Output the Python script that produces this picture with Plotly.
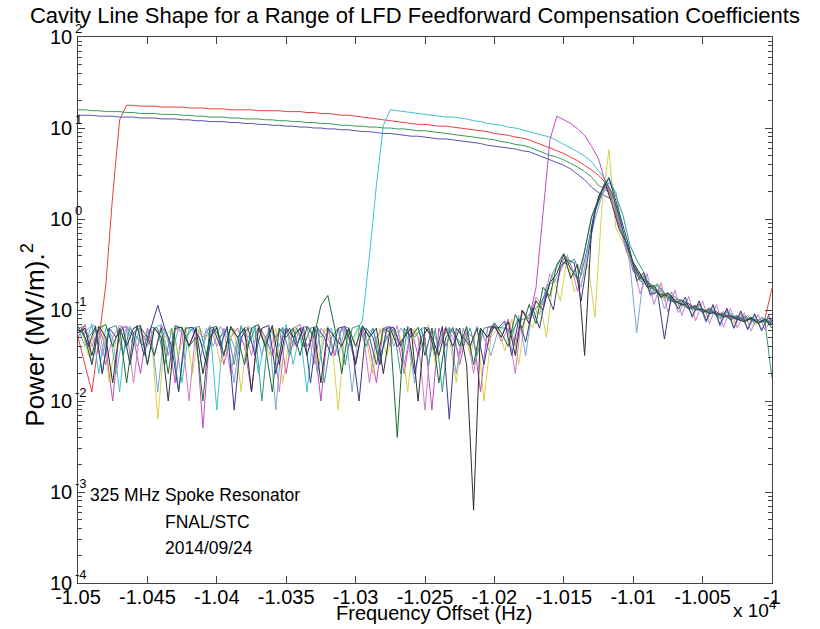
import plotly.graph_objects as go

# Frequency sweep grids (Hz), 5 Hz step; second grid interleaved by half a step
freq = list(range(-10500, -9999, 5))
freq_b = [f + 2.5 for f in freq]

# Power levels, in dB of (MV/m)^2  (P = 10**(dB/10))
red_db = [-13, -16, -19, -13.3, -7.3, 2.6, 10.9, 12.5, 12.5, 12.4,
          12.4, 12.4, 12.3, 12.3, 12.3, 12.3, 12.2, 12.2, 12.2, 12.1,
          12.1, 12.1, 12.0, 12.0, 12.0, 12.0, 11.9, 11.9, 11.9, 11.9,
          11.8, 11.8, 11.8, 11.7, 11.7, 11.6, 11.6, 11.5, 11.4, 11.4,
          11.3, 11.2, 11.1, 11.0, 10.9, 10.8, 10.7, 10.6, 10.5, 10.4,
          10.4, 10.3, 10.2, 10.2, 10.1, 10.0, 9.9, 9.8, 9.7, 9.6,
          9.4, 9.3, 9.2, 9.0, 8.9, 8.7, 8.4, 8.1, 7.8, 7.5,
          7.2, 6.8, 6.4, 5.9, 5.4, 4.8, 4.0, 2.4, -0.2, -3.2,
          -5.3, -6.1, -7.3, -7.5, -8.4, -8.2, -9.1, -9.0, -9.7, -9.5,
          -10.2, -9.8, -10.4, -10.5, -10.6, -11.0, -10.7, -11.1, -11.3, -10.9,
          -7.6]
cyan_db = [-12, -14, -11.5, -17, -12, -13, -19, -11.8, -14, -12,
           -16, -12, -11.6, -15, -13, -18, -12, -12.5, -14, -11.7,
           -21, -12, -13, -15, -11.9, -12, -17, -13, -12, -14,
           -11.6, -16, -12.5, -19, -12, -13, -11.8, -15, -12, -14,
           -12.5, -11.1, -4.0, 3.7, 10.3, 12.0, 11.9, 11.8, 11.7, 11.6,
           11.5, 11.4, 11.3, 11.2, 11.2, 11.1, 11.0, 10.8, 10.7, 10.5,
           10.4, 10.3, 10.1, 10.0, 9.8, 9.6, 9.4, 9.2, 9.0, 8.6,
           8.2, 7.8, 7.4, 6.9, 6.3, 5.3, 4.3, 2.7, 0.0, -2.9,
           -5.6, -6.6, -6.9, -7.9, -7.8, -8.7, -8.9, -9.4, -9.3, -9.9,
           -10.1, -10.1, -10.6, -10.4, -10.8, -10.7, -11.1, -10.8, -11.2, -11.0,
           -11.3]
magenta_db = [-13, -11.6, -16, -12, -14, -20, -12, -11.8, -13, -17,
              -12, -15, -11.7, -13, -18, -12, -14, -12, -23, -12.5,
              -11.9, -16, -13, -12, -14, -19, -11.8, -13, -15, -12,
              -17, -12, -11.6, -14, -13, -20, -12, -15, -11.9, -13,
              -16, -12, -14, -18, -12, -11.8, -13, -17, -12, -15,
              -13, -21, -12, -14, -11.9, -16, -12.5, -13, -19, -12,
              -11.6, -13, -11, -14, -10, -11, -7.5, 0.7, 8.7, 11.3,
              10.9, 10.5, 9.9, 9.2, 8.0, 6.6, 4.0, 2.0, -0.8, -2.6,
              -5.8, -6.0, -7.1, -8.3, -7.6, -8.8, -8.5, -9.3, -9.7, -9.5,
              -10.3, -9.8, -10.6, -10.2, -10.9, -10.6, -11.0, -11.1, -11.3, -11.0,
              -11.4]
green_db = [12.0, 12.0, 11.9, 11.9, 11.8, 11.8, 11.8, 11.7, 11.7, 11.6,
            11.6, 11.6, 11.5, 11.5, 11.5, 11.4, 11.4, 11.3, 11.3, 11.2,
            11.2, 11.2, 11.1, 11.1, 11.0, 11.0, 11.0, 10.9, 10.9, 10.8,
            10.8, 10.7, 10.7, 10.6, 10.6, 10.5, 10.5, 10.4, 10.3, 10.3,
            10.2, 10.2, 10.1, 10.1, 10.0, 10.0, 9.9, 9.9, 9.8, 9.7,
            9.7, 9.6, 9.5, 9.4, 9.3, 9.2, 9.1, 9.0, 8.9, 8.8,
            8.7, 8.5, 8.4, 8.2, 8.1, 7.9, 7.6, 7.3, 7.0, 6.8,
            6.5, 6.1, 5.7, 5.2, 4.6, 3.7, 3.2, 2.6, 0.2, -3.4,
            -4.7, -6.4, -6.9, -7.4, -8.7, -8.3, -8.9, -9.5, -9.7, -9.7,
            -10.0, -10.3, -10.4, -10.6, -10.9, -10.8, -11.2, -11.0, -11.1, -11.4,
            -17.5]
blue_db = [11.4, 11.4, 11.4, 11.3, 11.3, 11.3, 11.2, 11.2, 11.2, 11.1,
           11.1, 11.1, 11.0, 11.0, 11.0, 10.9, 10.9, 10.8, 10.8, 10.7,
           10.7, 10.7, 10.6, 10.6, 10.5, 10.5, 10.4, 10.4, 10.3, 10.3,
           10.2, 10.2, 10.1, 10.1, 10.0, 10.0, 9.9, 9.9, 9.8, 9.8,
           9.7, 9.6, 9.6, 9.5, 9.4, 9.4, 9.3, 9.2, 9.1, 9.1,
           9.0, 8.9, 8.8, 8.8, 8.7, 8.6, 8.5, 8.4, 8.3, 8.1,
           8.0, 7.9, 7.8, 7.7, 7.5, 7.4, 7.1, 6.8, 6.5, 6.2,
           5.9, 5.5, 4.9, 4.3, 3.5, 2.9, 2.5, 2.2, -0.6, -3.1,
           -5.2, -6.8, -7.1, -7.7, -8.0, -8.9, -9.1, -9.3, -9.9, -9.6,
           -10.2, -10.1, -10.5, -10.6, -10.7, -11.1, -10.9, -11.0, -11.5, -11.2,
           -11.4]
yellow_db = [-12, -15, -12, -11.7, -18, -13, -12, -16, -11.9, -14,
             -12, -22, -13, -12, -15, -11.8, -17, -12, -13, -12,
             -16, -14, -12, -19, -11.7, -13, -12, -15, -12, -18,
             -13, -11.8, -14, -12, -16, -12, -13, -21, -12, -14,
             -11.9, -13, -17, -12, -15, -12, -13, -19, -12, -14,
             -11.6, -16, -12, -13, -18, -12, -15, -11.8, -20, -13,
             -12, -14.5, -11, -16, -10.5, -12, -9, -13, -6.5, -9,
             -4.2, -8, -7, -5, -10.8, 1.5, 7.6, -1.0, -2.5, -4.0,
             -6.5, -6.0, -8.0, -7.0, -9.0, -8.0, -9.5, -9.0, -10.5, -9.5,
             -10.8, -10.0, -11.0, -10.2, -11.5, -10.6, -11.2, -11.8, -10.9, -11.6,
             -11.0]
dkgreen_db = [-11.8, -13, -16, -12, -11.6, -14, -12, -18, -12.5, -11.9,
              -13, -15, -12, -17, -11.7, -12, -14, -13, -20, -12,
              -11.8, -15, -12, -13, -16, -12, -11.6, -14, -19, -12,
              -13, -12, -15, -11.8, -13, -9.5, -8.4, -12, -17, -12,
              -14, -11.7, -13, -16, -12, -12.5, -24, -12, -13, -11.9,
              -15, -12, -18, -13, -12, -14, -11.8, -16, -12, -13,
              -11.4, -12.5, -14, -10.5, -12, -9.4, -11.5, -7.5, -8.5, -5,
              -3.8, -5.5, -6.5, -3.5, 0.2, 2.2, 4.2, 2.8, 0.3, -2.6,
              -5.0, -6.5, -6.8, -7.8, -8.3, -8.4, -9.3, -8.9, -9.9, -9.6,
              -10.3, -9.9, -10.6, -10.4, -11.1, -10.7, -11.2, -10.8, -11.4, -11.0,
              -12.0]
navy_db = [-12, -14, -11.8, -17, -12, -13, -12, -16, -11.7, -15,
           -12, -9.5, -12, -14, -19, -12, -11.9, -13, -16, -12,
           -14, -11.8, -21, -13, -12, -15, -12, -11.7, -17, -13,
           -12, -14, -11.9, -18, -12, -13, -15, -12, -11.8, -14,
           -20, -12, -13, -16, -12, -11.9, -14, -12, -17, -13,
           -12, -15, -11.8, -22, -12, -13, -14, -12, -16, -11.9,
           -12, -11.2, -15, -11, -13.5, -9.8, -12, -8, -10, -5.2,
           -4.5, -4.8, -9, -4, 0.8, 3.0, 4.5, 2.0, -0.8, -3.3,
           -6.8, -5.9, -8.3, -8.0, -13.2, -8.4, -9.9, -8.6, -10.8, -9.0,
           -11.2, -9.4, -11.6, -9.8, -12.0, -10.1, -12.1, -10.4, -12.3, -10.6,
           -12.0]
black_db = [-12.5, -12, -15, -11.8, -13, -18, -12, -14, -12, -11.7,
            -16, -12, -13, -20, -12, -11.9, -14, -12, -17, -13,
            -12, -15, -11.8, -13, -12, -19, -12, -14, -11.7, -16,
            -12, -13, -12, -15, -11.9, -18, -12, -13, -14, -12,
            -16, -11.8, -13, -12, -17, -12, -14, -13, -12, -20,
            -11.9, -13, -15, -12, -14, -12, -16, -32, -12, -13,
            -11.8, -13, -11.3, -15, -10, -11.5, -9, -10, -7, -6,
            -3.9, -6.5, -5, -15, -1, 2.5, 3.8, 1.5, -1.2, -2.5,
            -4.8, -6.0, -7.5, -7.3, -8.6, -8.1, -9.0, -9.4, -9.3, -10.0,
            -9.9, -10.4, -10.2, -10.8, -10.6, -11.0, -11.3, -10.9, -11.4, -11.1,
            -11.6]
ltblue_db = [-13, -12, -11.7, -15, -12, -17, -12.5, -11.8, -14, -13,
             -12, -19, -12, -15, -11.9, -13, -12, -16, -12, -14,
             -11.8, -13, -18, -12, -13, -11.7, -15, -12, -21, -12,
             -13, -14, -11.8, -12, -17, -13, -12, -15, -11.9, -19,
             -12, -13, -12, -16, -11.8, -14, -12, -13, -18, -12,
             -11.9, -15, -13, -12, -17, -12, -14, -11.8, -13, -15,
             -12.3, -11.5, -13, -10.6, -15, -9.6, -10.5, -7.3, -7, -5.8,
             -4, -6, -7.5, -3.2, 0, 2.6, 4.0, 3.0, -1.5, -4.8,
             -12.5, -6.2, -8.5, -7.2, -9.9, -8.0, -10.3, -9.0, -10.6, -9.3,
             -11.4, -9.6, -11.8, -10.0, -12.0, -10.4, -12.2, -10.6, -12.1, -10.9,
             -11.9]
pink_db = [-12, -11.8, -14, -12, -16, -13, -11.7, -12, -18, -12,
           -14, -11.9, -13, -15, -12, -12.5, -20, -12, -13, -11.8,
           -14, -12, -17, -13, -12, -15, -11.7, -13, -12, -19,
           -12, -14, -12, -11.8, -16, -12, -13, -15, -12, -11.9,
           -14, -12, -18, -13, -12, -14, -11.7, -16, -12, -13,
           -21, -12, -14, -11.8, -13, -15, -12, -17, -12, -14,
           -11.6, -13.5, -12, -17, -10.2, -11, -8.6, -9.5, -6, -7,
           -4.3, -5, -8, -3.6, 0.3, 2.0, 3.5, 2.2, -0.5, -3.6,
           -5.0, -8.2, -6.0, -9.4, -7.0, -10.2, -7.8, -10.6, -8.5, -11.2,
           -9.0, -11.5, -9.4, -11.9, -9.8, -12.0, -10.3, -12.3, -10.5, -12.2,
           -10.9]
teal_db = [-11.8, -13, -12, -17, -12, -11.7, -15, -12, -13, -14,
           -11.9, -12, -16, -12, -19, -13, -12, -11.8, -15, -12,
           -13, -12, -16, -11.7, -14, -12, -20, -12, -13, -11.9,
           -15, -12, -14, -12, -11.8, -18, -13, -12, -16, -12,
           -11.7, -14, -12, -15, -13, -12, -17, -11.8, -13, -12,
           -16, -12, -19, -11.9, -13, -14, -12, -15, -12, -11.8,
           -11.9, -12, -12.5, -11, -11, -10, -9.5, -8, -5.8, -4.6,
           -5, -4.4, -6.2, -2.8, 1.2, 3.2, 4.6, 2.6, 0.5, -2.8,
           -4.5, -5.8, -7.7, -7.2, -8.1, -9.0, -8.8, -9.1, -10.0, -9.4,
           -10.4, -10.0, -10.9, -10.2, -10.6, -11.2, -10.6, -11.5, -10.8, -11.2,
           -11.7]

# (name, values, colour, uses interleaved grid)
series = [
    ("red", red_db, "#e8403a", False),
    ("cyan", cyan_db, "#3fc1d3", False),
    ("magenta", magenta_db, "#c04cc0", False),
    ("green", green_db, "#3c9a5a", False),
    ("blue", blue_db, "#5656b0", False),
    ("yellow", yellow_db, "#d6d24a", True),
    ("ltblue", ltblue_db, "#7aa6d6", True),
    ("pink", pink_db, "#d27ac6", False),
    ("teal", teal_db, "#2f9c8c", True),
    ("black", black_db, "#2f2f2f", False),
    ("navy", navy_db, "#3a3a86", True),
    ("dkgreen", dkgreen_db, "#1d6b3a", False),
]

x_tickvals = [-10500, -10450, -10400, -10350, -10300, -10250, -10200, -10150, -10100, -10050, -10000]
x_ticktext = ["-1.05", "-1.045", "-1.04", "-1.035", "-1.03", "-1.025", "-1.02", "-1.015", "-1.01", "-1.005", "-1"]
y_exponents = [2, 1, 0, -1, -2, -3, -4]

FONT = "Liberation Sans, Arial, sans-serif"

fig = go.Figure()
for name, db, color, interleaved in series:
    fig.add_trace(go.Scatter(
        x=freq_b if interleaved else freq, y=[10 ** (v / 10) for v in db], mode="lines", name=name,
        line=dict(color=color, width=1), showlegend=False, hoverinfo="skip"))

axis_col = "#444444"
fig.update_layout(
    width=820, height=629, autosize=False,
    margin=dict(l=78, r=48, t=37, b=46),
    paper_bgcolor="white", plot_bgcolor="white",
    font=dict(family=FONT, color="black"),
    title=dict(text="Cavity Line Shape for a Range of LFD Feedforward Compensation Coefficients",
               x=0.506, y=0.976, xref="container", yref="container",
               xanchor="center", yanchor="middle",
               font=dict(family=FONT, size=22, color="black")),
    xaxis=dict(range=[-10500, -10000], tickvals=x_tickvals, ticktext=x_ticktext,
               ticks="inside", ticklen=7, tickcolor=axis_col, ticklabelstandoff=-4,
               showline=True, linecolor=axis_col, linewidth=1, mirror="ticks",
               showgrid=False, zeroline=False,
               tickfont=dict(family=FONT, size=20, color="black")),
    yaxis=dict(type="log", range=[-4, 2], tickvals=[10 ** e for e in y_exponents],
               showticklabels=False, ticks="inside", ticklen=7, tickcolor=axis_col,
               minor=dict(ticks="inside", ticklen=4, tickcolor=axis_col, dtick="D1", showgrid=False),
               showline=True, linecolor=axis_col, linewidth=1, mirror="ticks",
               showgrid=False, zeroline=False),
)

ann = []
for e in y_exponents:
    ann.append(dict(text="10", x=0, xref="paper", y=e, yref="y", xanchor="right", yanchor="middle",
                    xshift=-4, showarrow=False, font=dict(family=FONT, size=20, color="black")))
    ann.append(dict(text=str(e), x=0, xref="paper", y=e, yref="y", xanchor="left", yanchor="middle",
                    xshift=-5, yshift=9, showarrow=False, font=dict(family=FONT, size=13, color="black")))

ann += [
    dict(text="Power (MV/m).<sup>2</sup>", x=-0.064, xref="paper", y=0.454, yref="paper",
         textangle=-90, xanchor="center", yanchor="middle", showarrow=False,
         font=dict(family=FONT, size=26, color="black")),
    dict(text="Frequency Offset (Hz)", x=0.513, xref="paper", y=-0.055, yref="paper",
         xanchor="center", yanchor="middle", showarrow=False,
         font=dict(family=FONT, size=20, color="black")),
    dict(text="x 10<sup>4</sup>", x=0.975, xref="paper", y=-0.048, yref="paper",
         xanchor="center", yanchor="middle", showarrow=False,
         font=dict(family=FONT, size=19, color="black")),
    dict(text="325 MHz Spoke Resonator", x=10 / 694, xref="paper", y=(583 - 495) / 546, yref="paper",
         xanchor="left", yanchor="middle", showarrow=False, font=dict(family=FONT, size=17.5, color="black")),
    dict(text="FNAL/STC", x=85 / 694, xref="paper", y=(583 - 522) / 546, yref="paper",
         xanchor="left", yanchor="middle", showarrow=False, font=dict(family=FONT, size=17.5, color="black")),
    dict(text="2014/09/24", x=85 / 694, xref="paper", y=(583 - 548) / 546, yref="paper",
         xanchor="left", yanchor="middle", showarrow=False, font=dict(family=FONT, size=17.5, color="black")),
]
fig.update_layout(annotations=ann)

fig.write_html("out.html", config={"displayModeBar": False},
               post_script="document.body.style.margin='0px';document.body.style.overflow='hidden';")
